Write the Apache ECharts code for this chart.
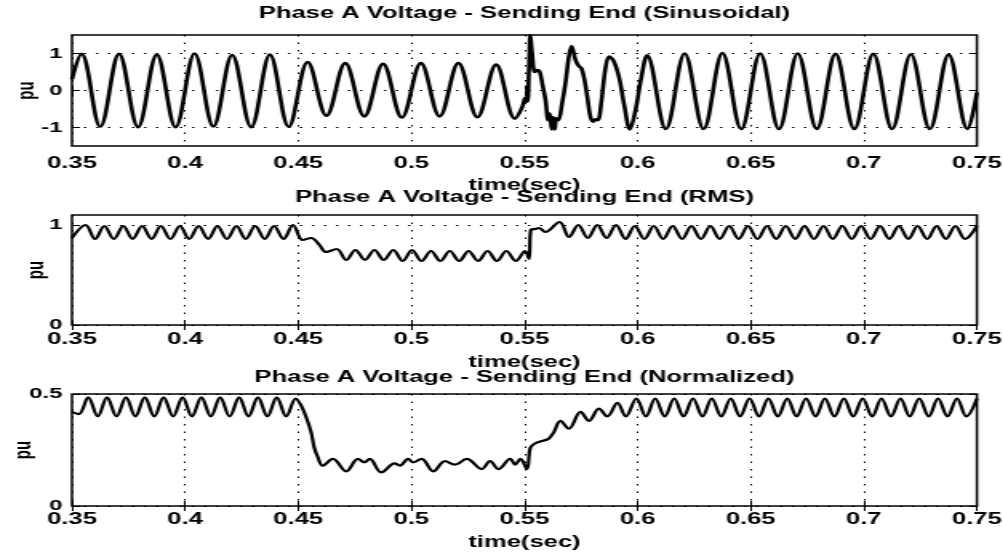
<!DOCTYPE html>
<html>
<head>
<meta charset="utf-8">
<title>Phase A Voltage - Sending End</title>
<script src="https://cdn.jsdelivr.net/npm/echarts@6/dist/echarts.min.js"></script>
<style>
  html, body { margin: 0; padding: 0; background: #fff; overflow: hidden; }
  /* the source figure is a scanned plot stretched sideways, so stretch the canvas the same way */
  #chart { width: 627px; height: 554px; transform: scaleX(1.6); transform-origin: 0 0; }
</style>
</head>
<body>
<div id="chart"></div>
<script>
// ---- data (time in sec, voltage in pu) ----
var timeTicks = [0.35, 0.4, 0.45, 0.5, 0.55, 0.6, 0.65, 0.7, 0.75];
var sineTicks = [-1, 0, 1];
var rmsTicks = [0, 1];
var normTicks = [0, 0.5];

// sinusoidal voltage: turning points of the wave, plus the transient after clearing
var sinePreT = [0.3500, 0.3542, 0.3625, 0.3708, 0.3792, 0.3875, 0.3958, 0.4042, 0.4125, 0.4208, 0.4292, 0.4375, 0.4458];
var sinePreV = [0.30, 0.99, -0.98, 0.99, -0.99, 0.97, -0.99, 1.00, -0.97, 0.96, -0.99, 0.97, -0.98];
var sineFaultT = [0.4542, 0.4625, 0.4708, 0.4792, 0.4875, 0.4958, 0.5042, 0.5125, 0.5208, 0.5292, 0.5375, 0.5458];
var sineFaultV = [0.77, -0.68, 0.74, -0.70, 0.72, -0.73, 0.74, -0.70, 0.74, -0.72, 0.70, -0.76];
var sineRecoveryT = [0.5490, 0.5504, 0.5513, 0.5520, 0.5526, 0.5533, 0.5546, 0.5558, 0.5568, 0.5580,
  0.5593, 0.5605, 0.5612, 0.5620, 0.5627, 0.5634, 0.5641, 0.5650, 0.5666, 0.5681,
  0.5696, 0.5708, 0.5726, 0.5740, 0.5752, 0.5765, 0.5778, 0.5792, 0.5805, 0.5815,
  0.5825, 0.5840, 0.5858, 0.5874, 0.5894, 0.5918, 0.5940, 0.5966, 0.5992, 0.6014];
var sineRecoveryV = [-0.45, -0.20, -0.30, 0.60, 1.50, 1.05, 0.50, 0.55, 0.50, 0.15,
  -0.25, -0.80, -0.62, -1.05, -0.72, -1.05, -0.75, -0.80, -0.36, 0.19,
  0.90, 1.20, 0.82, 0.66, 0.60, 0.30, -0.18, -0.72, -0.84, -0.78,
  -0.80, -0.30, 0.60, 0.92, 0.80, 0.36, -0.36, -1.05, -0.50, 0.27];
var sinePostT = [0.6042, 0.6125, 0.6208, 0.6292, 0.6375, 0.6458, 0.6542, 0.6625, 0.6708, 0.6792,
  0.6875, 0.6958, 0.7042, 0.7125, 0.7208, 0.7292, 0.7375, 0.7458, 0.7500];
var sinePostV = [0.95, -1.04, 1.00, -1.04, 1.01, -1.04, 1.00, -1.04, 1.00, -1.04,
  0.99, -1.04, 0.99, -1.04, 0.98, -1.04, 0.97, -1.04, -0.05];

// RMS voltage
var rmsPreT = [0.3500, 0.3560, 0.3602, 0.3643, 0.3685, 0.3727, 0.3768, 0.3810, 0.3852, 0.3893,
  0.3935, 0.3977, 0.4018, 0.4060, 0.4102, 0.4143, 0.4185, 0.4227, 0.4268, 0.4310,
  0.4352, 0.4393, 0.4435, 0.4477];
var rmsPreV = [0.87, 1.00, 0.86, 0.99, 0.86, 0.99, 0.86, 0.99, 0.86, 0.99,
  0.86, 0.99, 0.86, 0.99, 0.86, 0.99, 0.86, 0.99, 0.86, 0.99,
  0.86, 0.99, 0.86, 1.00];
var rmsFaultT = [0.4520, 0.4557, 0.4594, 0.4623, 0.4670, 0.4712, 0.4753, 0.4795, 0.4837, 0.4878,
  0.4920, 0.4962, 0.5003, 0.5045, 0.5087, 0.5128, 0.5170, 0.5212, 0.5253, 0.5295,
  0.5337, 0.5378, 0.5420, 0.5462, 0.5503, 0.5520];
var rmsFaultV = [0.85, 0.87, 0.80, 0.73, 0.76, 0.65, 0.75, 0.65, 0.75, 0.65,
  0.75, 0.64, 0.75, 0.64, 0.74, 0.64, 0.74, 0.64, 0.74, 0.64,
  0.74, 0.64, 0.74, 0.64, 0.74, 0.66];
var rmsPostT = [0.5528, 0.5548, 0.5565, 0.5592, 0.5655, 0.5697, 0.5738, 0.5780, 0.5822, 0.5863,
  0.5905, 0.5947, 0.5988, 0.6030, 0.6072, 0.6113, 0.6155, 0.6197, 0.6238, 0.6280,
  0.6322, 0.6363, 0.6405, 0.6447, 0.6488, 0.6530, 0.6572, 0.6613, 0.6655, 0.6697,
  0.6738, 0.6780, 0.6822, 0.6863, 0.6905, 0.6947, 0.6988, 0.7030, 0.7072, 0.7113,
  0.7155, 0.7197, 0.7238, 0.7280, 0.7322, 0.7363, 0.7405, 0.7447, 0.7500];
var rmsPostV = [0.95, 0.96, 0.97, 0.93, 1.03, 0.88, 1.00, 0.87, 1.00, 0.87,
  1.00, 0.86, 0.99, 0.86, 0.99, 0.86, 0.99, 0.86, 0.99, 0.86,
  0.99, 0.86, 0.99, 0.86, 0.99, 0.86, 0.99, 0.86, 0.99, 0.86,
  0.99, 0.86, 0.99, 0.86, 0.99, 0.86, 0.99, 0.86, 0.99, 0.86,
  0.99, 0.86, 0.99, 0.86, 0.99, 0.86, 0.99, 0.86, 0.99];

// normalized voltage
var normPreT = [0.3500, 0.3530, 0.3572, 0.3614, 0.3655, 0.3697, 0.3739, 0.3780, 0.3822, 0.3864,
  0.3905, 0.3947, 0.3989, 0.4030, 0.4072, 0.4114, 0.4155, 0.4197, 0.4239, 0.4280,
  0.4322, 0.4364, 0.4405, 0.4447, 0.4489];
var normPreV = [0.42, 0.41, 0.485, 0.40, 0.485, 0.40, 0.485, 0.40, 0.485, 0.40,
  0.485, 0.40, 0.485, 0.40, 0.485, 0.40, 0.485, 0.40, 0.485, 0.40,
  0.485, 0.40, 0.485, 0.40, 0.48];
var normFaultT = [0.4512, 0.4534, 0.4557, 0.4571, 0.4586, 0.4608, 0.4653, 0.4712, 0.4764, 0.4793,
  0.4816, 0.4867, 0.4927, 0.4949, 0.4986, 0.5008, 0.5045, 0.5097, 0.5149, 0.5193,
  0.5245, 0.5311, 0.5348, 0.5385, 0.5437, 0.5459, 0.5482, 0.5511];
var normFaultV = [0.45, 0.40, 0.33, 0.26, 0.22, 0.18, 0.21, 0.155, 0.21, 0.195,
  0.21, 0.15, 0.19, 0.18, 0.21, 0.195, 0.21, 0.155, 0.20, 0.185,
  0.21, 0.165, 0.20, 0.165, 0.21, 0.185, 0.21, 0.165];
var normPostT = [0.5526, 0.5548, 0.5578, 0.5607, 0.5630, 0.5659, 0.5696, 0.5748, 0.5785, 0.5829,
  0.5866, 0.5911, 0.5948, 0.5995, 0.6037, 0.6078, 0.6120, 0.6162, 0.6203, 0.6245,
  0.6287, 0.6328, 0.6370, 0.6412, 0.6453, 0.6495, 0.6537, 0.6578, 0.6620, 0.6662,
  0.6703, 0.6745, 0.6787, 0.6828, 0.6870, 0.6912, 0.6953, 0.6995, 0.7037, 0.7078,
  0.7120, 0.7162, 0.7203, 0.7245, 0.7287, 0.7328, 0.7370, 0.7412, 0.7453, 0.7500];
var normPostV = [0.26, 0.28, 0.29, 0.30, 0.33, 0.38, 0.345, 0.42, 0.38, 0.435,
  0.40, 0.46, 0.40, 0.48, 0.40, 0.48, 0.40, 0.48, 0.40, 0.48,
  0.40, 0.48, 0.40, 0.48, 0.40, 0.48, 0.40, 0.48, 0.40, 0.48,
  0.40, 0.48, 0.40, 0.48, 0.40, 0.48, 0.40, 0.48, 0.40, 0.48,
  0.40, 0.48, 0.40, 0.48, 0.40, 0.48, 0.40, 0.48, 0.40, 0.48];

var titles = [
  'Phase A Voltage - Sending End (Sinusoidal)',
  'Phase A Voltage - Sending End (RMS)',
  'Phase A Voltage - Sending End (Normalized)'
];

// ---- helpers ----
function pairs(ts, vs) {
  return ts.map(function (t, i) { return [t, vs[i]]; });
}

var FONT = "'Liberation Sans', Arial, Helvetica, sans-serif";
var GRID_LEFT = 45, GRID_WIDTH = 565.6;
var dotted = { type: [1.5, 6], color: '#000', width: 1 };
var boldText = { color: '#000', fontWeight: 'bold', fontFamily: FONT };

// one panel = grid + bottom/left axes with labels + top/right axes for the inner ticks
var panels = [
  { top: 35, height: 111, min: -1.5, max: 1.5, ticks: sineTicks, nameGap: 32, puGap: 21, labelMargin: 10, titleTop: 6 },
  { top: 215, height: 110, min: 0, max: 1.1, ticks: rmsTicks, nameGap: 30, puGap: 15, labelMargin: 7, titleTop: 190 },
  { top: 394, height: 112, min: 0, max: 0.5, ticks: normTicks, nameGap: 29, puGap: 23, labelMargin: 6, titleTop: 370 }
];

var grids = [], xAxes = [], yAxes = [], titleOpts = [];

panels.forEach(function (p, g) {
  grids.push({
    left: GRID_LEFT, width: GRID_WIDTH, top: p.top, height: p.height,
    outerBoundsMode: 'none', containLabel: false,
    show: true, borderColor: '#000', borderWidth: 1.5
  });
  titleOpts.push({
    text: titles[g], left: GRID_LEFT + GRID_WIDTH / 2, top: p.titleTop, textAlign: 'center', padding: 0,
    textStyle: { color: '#000', fontSize: 16, fontWeight: 'bold', fontFamily: FONT }
  });
  xAxes[g] = {
    type: 'value', gridIndex: g, position: 'bottom', min: 0.35, max: 0.75,
    name: 'time(sec)', nameLocation: 'middle', nameGap: p.nameGap,
    nameTextStyle: Object.assign({ fontSize: 16 }, boldText),
    axisLine: { show: false },
    axisTick: { inside: true, length: 5, customValues: timeTicks, lineStyle: { color: '#000' } },
    axisLabel: Object.assign({ customValues: timeTicks, margin: p.labelMargin, fontSize: 16 }, boldText),
    splitLine: { show: true, lineStyle: dotted }
  };
  yAxes[g] = {
    type: 'value', gridIndex: g, position: 'left', min: p.min, max: p.max,
    name: 'pu', nameLocation: 'middle', nameRotate: 90, nameGap: p.puGap, nameMoveOverlap: false,
    nameTextStyle: Object.assign({ fontSize: 15 }, boldText),
    axisLine: { show: false },
    axisTick: { inside: true, length: 5, customValues: p.ticks, lineStyle: { color: '#000' } },
    axisLabel: Object.assign({ customValues: p.ticks, margin: 6, fontSize: 15 }, boldText),
    splitLine: { show: true, lineStyle: dotted }
  };
  // mirrored axes, ticks only
  xAxes[g + 3] = {
    type: 'value', gridIndex: g, position: 'top', min: 0.35, max: 0.75,
    axisLine: { show: false },
    axisTick: { inside: true, length: 5, customValues: timeTicks, lineStyle: { color: '#000' } },
    axisLabel: { show: false }, splitLine: { show: false }
  };
  yAxes[g + 3] = {
    type: 'value', gridIndex: g, position: 'right', min: p.min, max: p.max,
    axisLine: { show: false },
    axisTick: { inside: true, length: 5, customValues: p.ticks, lineStyle: { color: '#000' } },
    axisLabel: { show: false }, splitLine: { show: false }
  };
});

var sineData = [].concat(pairs(sinePreT, sinePreV), pairs(sineFaultT, sineFaultV),
  pairs(sineRecoveryT, sineRecoveryV), pairs(sinePostT, sinePostV));
var rmsData = [].concat(pairs(rmsPreT, rmsPreV), pairs(rmsFaultT, rmsFaultV), pairs(rmsPostT, rmsPostV));
var normData = [].concat(pairs(normPreT, normPreV), pairs(normFaultT, normFaultV), pairs(normPostT, normPostV));

function lineSeries(name, idx, data, width) {
  return {
    name: name, type: 'line', xAxisIndex: idx, yAxisIndex: idx, data: data,
    symbol: 'none', smooth: 0.36, clip: true,
    lineStyle: { color: '#000', width: width }
  };
}

var chart = echarts.init(document.getElementById('chart'), null, { renderer: 'canvas' });

chart.setOption({
  animation: false,
  backgroundColor: '#fff',
  textStyle: { fontFamily: FONT },
  title: titleOpts,
  grid: grids,
  xAxis: xAxes,
  yAxis: yAxes,
  series: [
    lineSeries('Sinusoidal', 0, sineData, 2.6),
    lineSeries('RMS', 1, rmsData, 2.2),
    lineSeries('Normalized', 2, normData, 2.2)
  ]
}); // end chart options
</script>
</body>
</html>
